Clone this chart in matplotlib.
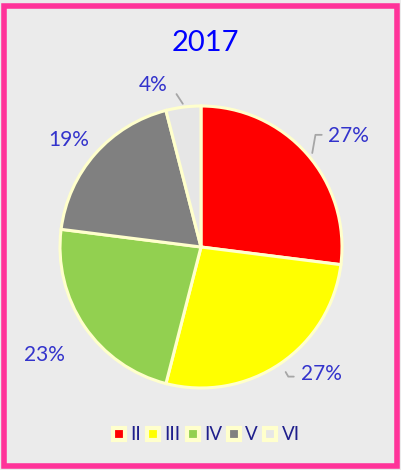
"""
2017 share by category, pie chart with Excel-like styling.
"""

import numpy as np
import matplotlib.pyplot as plt
from matplotlib.patches import Rectangle

categories = ["II", "III", "IV", "V", "VI"]
shares = [27, 27, 23, 19, 4]
colors = ["#FF0000", "#FFFF00", "#92D050", "#808080", "#E6E6E6"]
title = "2017"

# label placement: (angle in degrees, distance in radii) relative to pie centre
label_pos = [(37.0, 1.31), (-46.4, 1.24), (-145.3, 1.35), (141.0, 1.21), (106.5, 1.20)]

plt.rcParams["font.family"] = ["Lato", "DejaVu Sans"]

fig = plt.figure(figsize=(4.02, 4.70), dpi=100)
fig.patch.set_facecolor("#EBEBEB")
ax = fig.add_axes([0, 0, 1, 1])

# pink frame
fig.add_artist(Rectangle((4.5 / 402, 4 / 470), 393 / 402, 460 / 470,
                         transform=fig.transFigure, fill=False,
                         edgecolor="#FF3399", linewidth=4))

cx, cy, r = 201, 223, 141
wedges, _ = ax.pie(shares, colors=colors, startangle=90, counterclock=False,
                   center=(cx, cy), radius=r, frame=True,
                   wedgeprops=dict(edgecolor="#FFFFCC", linewidth=2.2))
ax.set_xlim(0, 402)
ax.set_ylim(0, 470)
ax.set_aspect("equal")
ax.axis("off")

# percentage labels with leader lines where Excel drew them
cum = np.cumsum([0] + shares)
for i, (w, s) in enumerate(zip(wedges, shares)):
    ang, dist = label_pos[i]
    tx = cx + dist * r * np.cos(np.radians(ang))
    ty = cy + dist * r * np.sin(np.radians(ang))
    mid = np.radians(90 - 3.6 * (cum[i] + cum[i + 1]) / 2)
    ex = cx + r * np.cos(mid)
    ey = cy + r * np.sin(mid)
    if i == 0:
        ax.annotate("", xy=(ex + 5, ey - 2), xytext=(tx - 24, ty + 1),
                    arrowprops=dict(arrowstyle="-", color="#A6A6A6", lw=1.3,
                                    connectionstyle="angle,angleA=0,angleB=80,rad=0"))
    elif i == 1:
        ax.annotate("", xy=(ex + 4, ey - 6), xytext=(tx - 25, ty - 3),
                    arrowprops=dict(arrowstyle="-", color="#A6A6A6", lw=1.3,
                                    connectionstyle="angle,angleA=0,angleB=-60,rad=0"))
    elif i == 4:
        ax.annotate("", xy=(ex + 1, ey + 1), xytext=(tx + 22, ty - 7),
                    arrowprops=dict(arrowstyle="-", color="#A6A6A6", lw=1.3))
    ax.text(tx, ty, f"{s}%", ha="center", va="center", fontsize=15,
            color="#3333CC")

ax.text(205, 427, title, ha="center", va="center", fontsize=21, color="#0000FF")

handles = [plt.Line2D([], [], marker="s", linestyle="", markersize=8.5,
                      markerfacecolor=c, markeredgecolor="#FFFFCC",
                      markeredgewidth=3) for c in colors]
leg = ax.legend(handles, categories, loc="center", bbox_to_anchor=(206, 35),
                bbox_transform=ax.transData, ncol=5, frameon=False,
                fontsize=13.5, handlelength=0.7, handletextpad=0.25,
                columnspacing=0.3, borderpad=0)
for t in leg.get_texts():
    t.set_color("#1F1F8C")

fig.savefig("out.png", dpi=100, facecolor=fig.get_facecolor())
